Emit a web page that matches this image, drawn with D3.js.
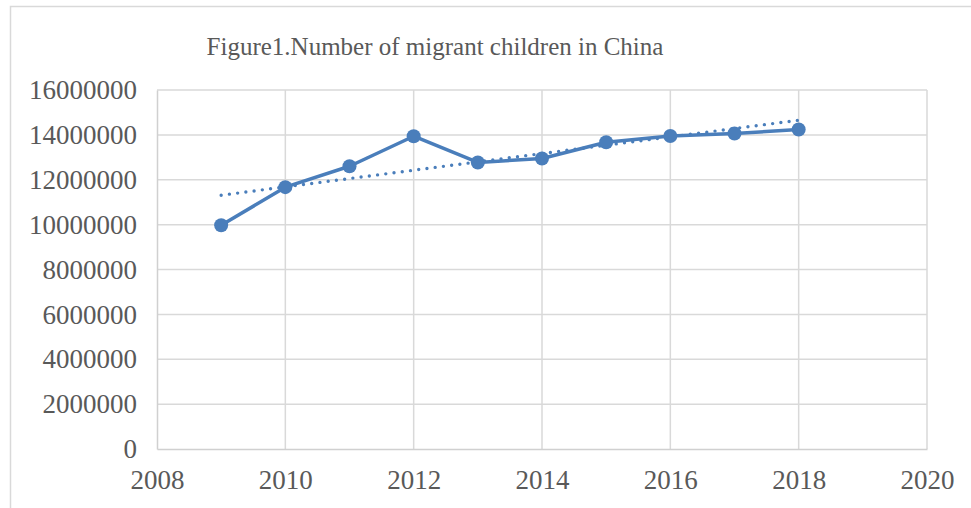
<!DOCTYPE html>
<html><head><meta charset="utf-8">
<script src="https://cdn.jsdelivr.net/npm/d3@7"></script>
<style>body{margin:0;background:#fff}</style>
</head><body>
<svg id="c" width="971" height="508"></svg>
<script>
const years = [2009, 2010, 2011, 2012, 2013, 2014, 2015, 2016, 2017, 2018];
const children = [9970000, 11670000, 12600000, 13940000, 12770000, 12950000, 13670000, 13950000, 14060000, 14240000];
const xTicks = [2008, 2010, 2012, 2014, 2016, 2018, 2020];
const yTicks = [0, 2000000, 4000000, 6000000, 8000000, 10000000, 12000000, 14000000, 16000000];
const title = "Figure1.Number of migrant children in China";

const svg = d3.select("#c");
const font = "'Liberation Serif', 'Times New Roman', serif";
const textColor = "#595959";
const blue = "#4A7EBB";

svg.append("rect").attr("x", 10.5).attr("y", 6.5).attr("width", 1000).attr("height", 540)
  .attr("fill", "#fff").attr("stroke", "#d9d9d9").attr("stroke-width", 1.5);

const x = d3.scaleLinear().domain([2008, 2020]).range([157, 927]);
const y = d3.scaleLinear().domain([0, 16000000]).range([449, 90]);

// gridlines
svg.append("g").selectAll("line").data(yTicks.slice(1)).join("line")
  .attr("x1", x(2008)).attr("x2", x(2020)).attr("y1", d => y(d)).attr("y2", d => y(d))
  .attr("stroke", "#d9d9d9").attr("stroke-width", 1.5);
svg.append("g").selectAll("line").data(xTicks.slice(1)).join("line")
  .attr("x1", d => x(d)).attr("x2", d => x(d)).attr("y1", y(0)).attr("y2", y(16000000))
  .attr("stroke", "#d9d9d9").attr("stroke-width", 1.5);

// axes
const yAxis = svg.append("g").attr("transform", `translate(${x(2008)},0)`)
  .call(d3.axisLeft(y).tickValues(yTicks).tickSize(0).tickPadding(20).tickFormat(d3.format("d")));
const xAxis = svg.append("g").attr("transform", `translate(0,${y(0)})`)
  .call(d3.axisBottom(x).tickValues(xTicks).tickSize(0).tickPadding(21).tickFormat(d3.format("d")));
[yAxis, xAxis].forEach(a => {
  a.select(".domain").attr("stroke", "#d0d0d0").attr("stroke-width", 1.5);
  a.selectAll("text").attr("font-family", font).attr("font-size", 27).attr("fill", textColor);
});

// trendline (least squares from the data)
const n = years.length;
const mx = d3.mean(years), my = d3.mean(children);
const slope = d3.sum(years, (v, i) => (v - mx) * (children[i] - my)) / d3.sum(years, v => (v - mx) ** 2);
const icpt = my - slope * mx;
const tr = [years[0], years[n - 1]].map(v => [v, icpt + slope * v]);
svg.append("path").attr("d", d3.line().x(d => x(d[0])).y(d => y(d[1]))(tr))
  .attr("fill", "none").attr("stroke", blue).attr("stroke-width", 3.4)
  .attr("stroke-dasharray", "0,8.3").attr("stroke-linecap", "round");

// series
const pts = years.map((v, i) => [v, children[i]]);
svg.append("path").attr("d", d3.line().x(d => x(d[0])).y(d => y(d[1]))(pts))
  .attr("fill", "none").attr("stroke", blue).attr("stroke-width", 3.5).attr("stroke-linejoin", "round");
svg.append("g").selectAll("circle").data(pts).join("circle")
  .attr("cx", d => x(d[0])).attr("cy", d => y(d[1])).attr("r", 7).attr("fill", blue);

svg.append("text").attr("x", 435).attr("y", 55).attr("text-anchor", "middle")
  .attr("font-family", font).attr("font-size", 25).attr("fill", textColor).text(title);
</script>
</body></html>
